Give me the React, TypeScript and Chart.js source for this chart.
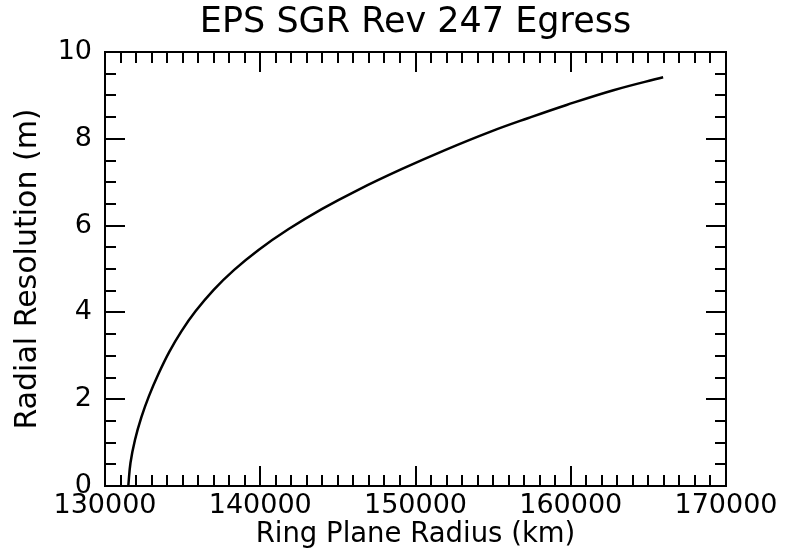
import { useEffect, useRef } from "react";
import { Chart, registerables } from "chart.js";

Chart.register(...registerables);

const chartTitle = "EPS SGR Rev 247 Egress";
const xAxisLabel = "Ring Plane Radius (km)";
const yAxisLabel = "Radial Resolution (m)";

// Ring plane radius (km) and radial resolution (m)
const radiusKm = [
  131500, 131640, 131930, 132350, 132830, 133440, 134140, 134930, 135840, 137000, 138320,
  139890, 141830, 143960, 146280, 149100, 151900, 154800, 157280, 159730, 162750, 165950,
];
const resolutionM = [
  0, 0.53, 1.06, 1.59, 2.07, 2.58, 3.09, 3.57, 4.03, 4.52, 4.98,
  5.44, 5.92, 6.38, 6.82, 7.3, 7.74, 8.16, 8.48, 8.78, 9.12, 9.42,
];

const xTickValues = [130000, 140000, 150000, 160000, 170000];
const yTickValues = [0, 2, 4, 6, 8, 10];
const xMinorStep = 1000;
const yMinorStep = 0.5;

const MAJOR_LEN = 20;
const MINOR_LEN = 11;

const frameTicks = {
  id: "frameTicks",
  afterDatasetsDraw(chart: any) {
    const { ctx, chartArea, scales } = chart;
    const { left, right, top, bottom } = chartArea;
    const x = scales.x;
    const y = scales.y;
    ctx.save();
    ctx.strokeStyle = "#000";
    ctx.lineWidth = 2;
    ctx.lineCap = "butt";
    ctx.beginPath();
    const xMin = xTickValues[0];
    const xMax = xTickValues[xTickValues.length - 1];
    const nx = Math.round((xMax - xMin) / xMinorStep);
    for (let i = 1; i < nx; i++) {
      const v = xMin + i * xMinorStep;
      const major = xTickValues.includes(v);
      const len = major ? MAJOR_LEN : MINOR_LEN;
      const px = Math.round(x.getPixelForValue(v));
      ctx.moveTo(px, bottom);
      ctx.lineTo(px, bottom - len);
      ctx.moveTo(px, top);
      ctx.lineTo(px, top + len);
    }
    const yMin = yTickValues[0];
    const yMax = yTickValues[yTickValues.length - 1];
    const ny = Math.round((yMax - yMin) / yMinorStep);
    for (let i = 1; i < ny; i++) {
      const v = yMin + i * yMinorStep;
      const major = yTickValues.some((t) => Math.abs(t - v) < 1e-9);
      const len = major ? MAJOR_LEN : MINOR_LEN;
      const py = Math.round(y.getPixelForValue(v));
      ctx.moveTo(left, py);
      ctx.lineTo(left + len, py);
      ctx.moveTo(right, py);
      ctx.lineTo(right - len, py);
    }
    ctx.stroke();
    ctx.strokeRect(left, top, right - left, bottom - top);
    ctx.restore();
  },
};

export default function App() {
  const canvasRef = useRef<HTMLCanvasElement | null>(null);

  useEffect(() => {
    const canvas = canvasRef.current;
    if (!canvas) return;
    Chart.defaults.font.family = "'DejaVu Sans', sans-serif";
    Chart.defaults.color = "#000";
    const points = radiusKm.map((r, i) => ({ x: r, y: resolutionM[i] }));
    const chart = new Chart(canvas, {
      type: "line",
      data: {
        datasets: [
          {
            data: points,
            borderColor: "#000",
            borderWidth: 2.5,
            pointRadius: 0,
            fill: false,
            tension: 0.4,
          },
        ],
      },
      options: {
        responsive: false,
        animation: false,
        devicePixelRatio: 1,
        layout: { padding: { left: 10, right: 62, top: 0, bottom: 4 } },
        plugins: {
          legend: { display: false },
          tooltip: { enabled: false },
          title: {
            display: true,
            fullSize: false,
            text: chartTitle,
            color: "#000",
            font: { size: 35, weight: "normal" },
            padding: { top: 2, bottom: 8 },
          },
        },
        scales: {
          x: {
            type: "linear",
            min: xTickValues[0],
            max: xTickValues[xTickValues.length - 1],
            afterFit: (s: any) => {
              s.height = 65;
            },
            afterBuildTicks: (s: any) => {
              s.ticks = xTickValues.map((v) => ({ value: v }));
            },
            grid: { display: false, drawTicks: false },
            border: { display: false },
            ticks: {
              color: "#000",
              font: { size: 27 },
              padding: 4,
              maxRotation: 0,
              autoSkip: false,
              callback: (v: any) => String(v),
            },
            title: {
              display: true,
              text: xAxisLabel,
              color: "#000",
              font: { size: 27.5 },
              padding: { top: 0, bottom: 0 },
            },
          },
          y: {
            type: "linear",
            min: yTickValues[0],
            max: yTickValues[yTickValues.length - 1],
            afterFit: (s: any) => {
              s.width = 95;
            },
            afterBuildTicks: (s: any) => {
              s.ticks = yTickValues.map((v) => ({ value: v }));
            },
            grid: { display: false, drawTicks: false },
            border: { display: false },
            ticks: {
              color: "#000",
              font: { size: 27 },
              padding: 13,
              autoSkip: false,
              callback: (v: any) => String(v),
            },
            title: {
              display: true,
              text: yAxisLabel,
              color: "#000",
              font: { size: 30 },
              padding: { top: 0, bottom: 0 },
            },
          },
        },
      },
      plugins: [frameTicks],
    });
    return () => chart.destroy();
  }, []);

  return (
    <div style={{ position: "fixed", left: 0, top: 0, width: 788, height: 555, background: "#fff" }}>
      <canvas ref={canvasRef} width={788} height={555} style={{ display: "block" }} />
    </div>
  );
}
